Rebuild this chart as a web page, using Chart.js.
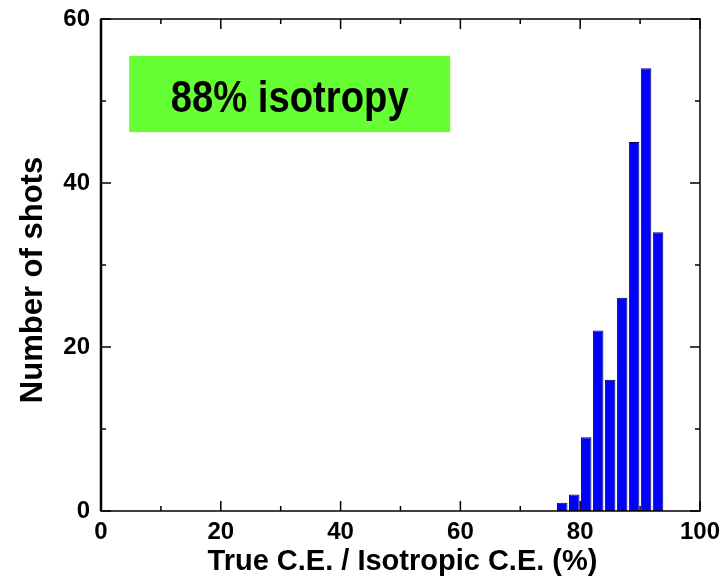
<!DOCTYPE html>
<html>
<head>
<script src="https://cdn.jsdelivr.net/npm/chart.js@4"></script>
<style>
  body { margin: 0; background: #fff; }
</style>
</head>
<body>
<canvas id="canvas" width="727" height="579"></canvas>
<script>
// histogram bins (centre of each 2% bin) and counts
const binCenters = [77, 79, 81, 83, 85, 87, 89, 91, 93];
const shotCounts = [1, 2, 9, 22, 16, 26, 45, 54, 34];
const xMajor = [0, 20, 40, 60, 80, 100];
const xMinor = [10, 30, 50, 70, 90];
const yMajor = [0, 20, 40, 60];
const yMinor = [10, 30, 50];
const xTitle = 'True C.E. / Isotropic C.E. (%)';
const yTitle = 'Number of shots';
const boxLabel = '88% isotropy';

const FONT = '"Liberation Sans", Arial, sans-serif';

// frame, inward ticks on all four sides, label box and axis titles
const framePlugin = {
  id: 'frame',
  afterDatasetsDraw(chart) {
    const { ctx, chartArea: a, scales: { x, y } } = chart;
    ctx.save();
    ctx.strokeStyle = '#000';
    ctx.lineWidth = 1.5;
    ctx.strokeRect(a.left, a.top, a.right - a.left, a.bottom - a.top);
    ctx.lineWidth = 2.5;
    ctx.beginPath();
    ctx.moveTo(a.left, a.top);
    ctx.lineTo(a.left, a.bottom);
    ctx.stroke();

    ctx.lineWidth = 1.5;
    const tick = (vals, len) => {
      ctx.beginPath();
      vals.forEach((v) => {
        const px = x.getPixelForValue(v);
        ctx.moveTo(px, a.bottom); ctx.lineTo(px, a.bottom - len);
        ctx.moveTo(px, a.top); ctx.lineTo(px, a.top + len);
      });
      ctx.stroke();
    };
    const ytick = (vals, len) => {
      ctx.beginPath();
      vals.forEach((v) => {
        const py = y.getPixelForValue(v);
        ctx.moveTo(a.left, py); ctx.lineTo(a.left + len, py);
        ctx.moveTo(a.right, py); ctx.lineTo(a.right - len, py);
      });
      ctx.stroke();
    };
    tick(xMajor, 10); tick(xMinor, 5);
    ytick(yMajor, 10); ytick(yMinor, 5);

    // green label box
    const bx0 = x.getPixelForValue(4.7), bx1 = x.getPixelForValue(58.3);
    const by0 = y.getPixelForValue(55.5), by1 = y.getPixelForValue(46.2);
    ctx.fillStyle = '#66ff33';
    ctx.fillRect(bx0, by0, bx1 - bx0, by1 - by0);
    ctx.fillStyle = '#000';
    ctx.font = 'bold 45px ' + FONT;
    ctx.textAlign = 'center';
    ctx.textBaseline = 'alphabetic';
    ctx.save();
    ctx.translate((bx0 + bx1) / 2, by0 + 56);
    ctx.scale(0.85, 1);
    ctx.fillText(boxLabel, 0, 0);
    ctx.restore();

    // axis titles
    ctx.font = 'bold 29px ' + FONT;
    ctx.textBaseline = 'middle';
    ctx.fillText(xTitle, (a.left + a.right) / 2 + 2, 562);
    ctx.font = 'bold 31px ' + FONT;
    ctx.save();
    ctx.translate(33, (a.top + a.bottom) / 2 + 15);
    ctx.rotate(-Math.PI / 2);
    ctx.fillText(yTitle, 0, 0);
    ctx.restore();
    ctx.restore();
  }
};

new Chart(document.getElementById('canvas'), {
  type: 'bar',
  data: {
    datasets: [{
      data: binCenters.map((c, i) => ({ x: c, y: shotCounts[i] })),
      backgroundColor: '#0000ff',
      borderColor: '#000050',
      borderWidth: 1,
      borderSkipped: false,
      barPercentage: 0.88,
      categoryPercentage: 1
    }]
  },
  options: {
    responsive: false,
    animation: false,
    devicePixelRatio: 1,
    layout: { padding: { top: 19, right: 27, left: 0, bottom: 0 } },
    plugins: { legend: { display: false }, tooltip: { enabled: false } },
    scales: {
      x: {
        type: 'linear',
        min: 0, max: 100,
        offset: false,
        grid: { display: false, drawTicks: false, offset: false },
        border: { display: false },
        ticks: { stepSize: 20, padding: 7, color: '#000', font: { family: FONT, size: 24, weight: 'bold' }, maxRotation: 0 },
        afterFit: (s) => { s.height = 68; }
      },
      y: {
        min: 0, max: 60,
        grid: { display: false, drawTicks: false },
        border: { display: false },
        ticks: { stepSize: 20, padding: 11, color: '#000', font: { family: FONT, size: 24, weight: 'bold', lineHeight: 0.5 } },
        afterFit: (s) => { s.width = 101; }
      }
    }
  },
  plugins: [framePlugin]
});
</script>
</body>
</html>
